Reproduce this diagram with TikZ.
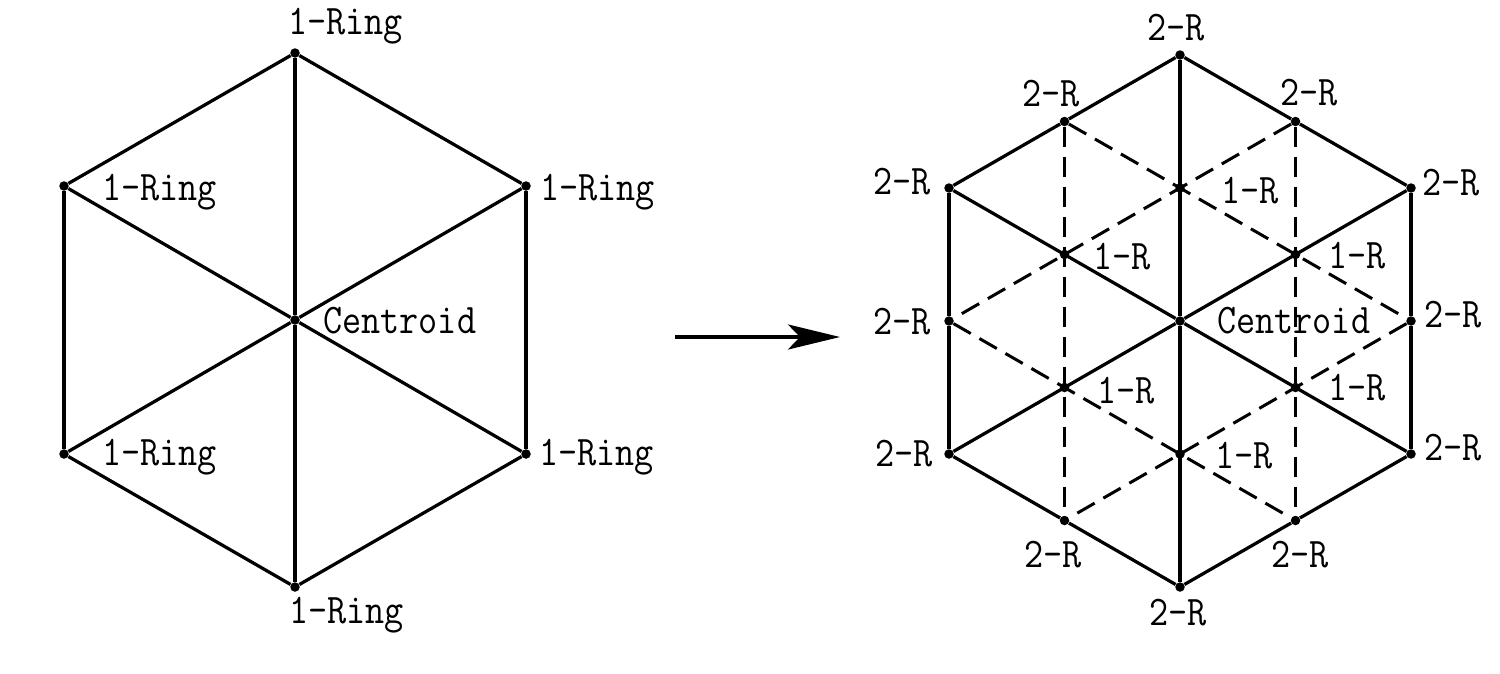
\documentclass[tikz,border=0pt]{standalone}
\usepackage{tikz}
\usetikzlibrary{arrows.meta,positioning}
\tikzstyle{vS}=[circle,fill=black,minimum size = 0.19cm,inner sep = 0pt]
\tikzstyle{lS}=[inner sep = 0pt,anchor=base west,xscale=0.88,font=\fontsize{24}{28}\fontseries{l}\selectfont\ttfamily]
\tikzstyle{eS}=[line width=0.065cm]
\tikzstyle{eD}=[line width=0.06cm,dash pattern=on 0.4cm off 0.2cm]
\tikzstyle{eA}=[line width=0.08cm,-{Stealth[length=1.04cm,width=0.5cm,inset=0.24cm]}]

\begin{document}
\begin{tikzpicture}[x=0.02cm,y=-0.02cm]
                \useasboundingbox (0,0) rectangle (1500,673);
                % left hexagon
                \draw (295,320) node[vS] (c0) {};
                \draw (295,53) node[vS] (a1) {};
                \draw (526,186) node[vS] (a2) {};
                \draw (526,454) node[vS] (a3) {};
                \draw (295,587) node[vS] (a4) {};
                \draw (64,454) node[vS] (a5) {};
                \draw (64,186) node[vS] (a6) {};
                \path
                    (a1) edge[eS] (a2)
                    (a2) edge[eS] (a3)
                    (a3) edge[eS] (a4)
                    (a4) edge[eS] (a5)
                    (a5) edge[eS] (a6)
                    (a6) edge[eS] (a1)
                    (c0) edge[eS] (a1)
                    (c0) edge[eS] (a2)
                    (c0) edge[eS] (a3)
                    (c0) edge[eS] (a4)
                    (c0) edge[eS] (a5)
                    (c0) edge[eS] (a6)
                ;
                \draw (288,34) node[lS] (ta1) {1-Ring};
                \draw (540,200) node[lS] (ta2) {1-Ring};
                \draw (539,465) node[lS] (ta3) {1-Ring};
                \draw (289,623) node[lS] (ta4) {1-Ring};
                \draw (102,465) node[lS] (ta5) {1-Ring};
                \draw (102,200) node[lS] (ta6) {1-Ring};
                \draw (323,333) node[lS] (tc0) {Centroid};
                % arrow
                \coordinate (aS) at (675,337);
                \coordinate (aE) at (840,337);
                \draw[eA] (aS) -- (aE);
                % right hexagon
                \draw (1180,321) node[vS] (c1) {};
                \draw (1180,55) node[vS] (v1) {};
                \draw (1411,188) node[vS] (v2) {};
                \draw (1411,454) node[vS] (v3) {};
                \draw (1180,587) node[vS] (v4) {};
                \draw (949,454) node[vS] (v5) {};
                \draw (949,188) node[vS] (v6) {};
                \draw (1295.5,121.5) node[vS] (m12) {};
                \draw (1411,321) node[vS] (m23) {};
                \draw (1295.5,520.5) node[vS] (m34) {};
                \draw (1064.5,520.5) node[vS] (m45) {};
                \draw (949,321) node[vS] (m56) {};
                \draw (1064.5,121.5) node[vS] (m61) {};
                \draw (1180,188) node[vS] (r1) {};
                \draw (1295.5,254.5) node[vS] (r2) {};
                \draw (1295.5,387.5) node[vS] (r3) {};
                \draw (1180,454) node[vS] (r4) {};
                \draw (1064.5,387.5) node[vS] (r5) {};
                \draw (1064.5,254.5) node[vS] (r6) {};
                \path
                    (v1) edge[eS] (m12)
                    (m12) edge[eS] (v2)
                    (v2) edge[eS] (m23)
                    (m23) edge[eS] (v3)
                    (v3) edge[eS] (m34)
                    (m34) edge[eS] (v4)
                    (v4) edge[eS] (m45)
                    (m45) edge[eS] (v5)
                    (v5) edge[eS] (m56)
                    (m56) edge[eS] (v6)
                    (v6) edge[eS] (m61)
                    (m61) edge[eS] (v1)
                    (c1) edge[eS] (v1)
                    (c1) edge[eS] (v2)
                    (c1) edge[eS] (v3)
                    (c1) edge[eS] (v4)
                    (c1) edge[eS] (v5)
                    (c1) edge[eS] (v6)
                    (m61) edge[eD] (m45)
                    (m12) edge[eD] (m34)
                    (m61) edge[eD] (m23)
                    (m12) edge[eD] (m56)
                    (m56) edge[eD] (m34)
                    (m23) edge[eD] (m45)
                ;
                \draw (1147,40) node[lS] (tv1) {2-R};
                \draw (1422,195) node[lS] (tv2) {2-R};
                \draw (1424,460) node[lS] (tv3) {2-R};
                \draw (1149,625) node[lS] (tv4) {2-R};
                \draw (875,466) node[lS] (tv5) {2-R};
                \draw (873,194) node[lS] (tv6) {2-R};
                \draw (1280,105) node[lS] (tm12) {2-R};
                \draw (1424,327) node[lS] (tm23) {2-R};
                \draw (1271,567) node[lS] (tm34) {2-R};
                \draw (1024,567) node[lS] (tm45) {2-R};
                \draw (873,334) node[lS] (tm56) {2-R};
                \draw (1022,106) node[lS] (tm61) {2-R};
                \draw (1221,203) node[lS] (tr1) {1-R};
                \draw (1328,268) node[lS] (tr2) {1-R};
                \draw (1328,400) node[lS] (tr3) {1-R};
                \draw (1215,468) node[lS] (tr4) {1-R};
                \draw (1097,403) node[lS] (tr5) {1-R};
                \draw (1093,269) node[lS] (tr6) {1-R};
                \draw (1217,333) node[lS] (tc1) {Centroid};
        \end{tikzpicture}
\end{document}
